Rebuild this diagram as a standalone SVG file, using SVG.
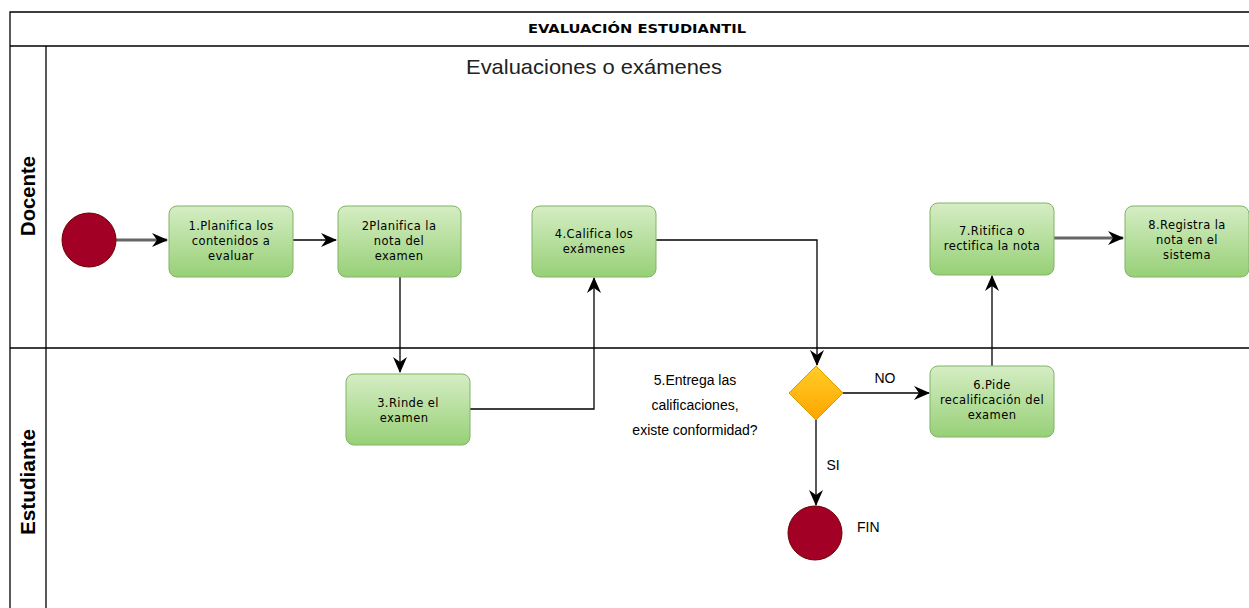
<svg xmlns="http://www.w3.org/2000/svg" width="1249" height="608" viewBox="0 0 1249 608">
<defs>
<linearGradient id="g" x1="0" y1="0" x2="0" y2="1"><stop offset="0" stop-color="#d5edc4"/><stop offset="1" stop-color="#97d077"/></linearGradient>
<linearGradient id="y" x1="0" y1="0" x2="0" y2="1"><stop offset="0" stop-color="#ffcd28"/><stop offset="1" stop-color="#ffa500"/></linearGradient>
<marker id="a" markerWidth="16" markerHeight="14" refX="15" refY="7" orient="auto" markerUnits="userSpaceOnUse"><path d="M0,0 L16,7 L0,14 L5,7 Z" fill="#000"/></marker>
<style>
.box{fill:url(#g);stroke:#82b366;stroke-width:1}
.bt{font-family:"DejaVu Sans",sans-serif;font-size:11.5px;letter-spacing:0.4px;text-anchor:middle;fill:#000}
.ev{fill:#a20025;stroke:#6f0000;stroke-width:1}
.c{fill:none;stroke:#000;stroke-width:1.3;marker-end:url(#a)}
.cg{fill:none;stroke:#666;stroke-width:3;marker-end:url(#a)}
.lbl{font-family:"Liberation Sans",Arial,sans-serif;font-size:14px;fill:#000}
.frame{fill:none;stroke:#000;stroke-width:1.3}
.lane{font-family:"Liberation Sans",Arial,sans-serif;font-size:20px;font-weight:bold;text-anchor:middle}
</style>
</defs>
<rect width="1249" height="608" fill="#fff"/>
<g id="pool">
<path class="frame" d="M10,608 V12 H1250 M10,46 H1250 M46,46 V608 M10,348 H1250"/>
<text x="637" y="33" font-family="DejaVu Sans,sans-serif" font-size="12" font-weight="bold" text-anchor="middle" textLength="218" lengthAdjust="spacingAndGlyphs">EVALUACIÓN ESTUDIANTIL</text>
<text class="lane" transform="translate(35,196) rotate(-90)" textLength="80" lengthAdjust="spacingAndGlyphs">Docente</text>
<text class="lane" transform="translate(35,482) rotate(-90)" textLength="106" lengthAdjust="spacingAndGlyphs">Estudiante</text>
<text x="594" y="74" font-family="Liberation Sans,Arial,sans-serif" font-size="21" text-anchor="middle" fill="#222" textLength="256" lengthAdjust="spacingAndGlyphs">Evaluaciones o exámenes</text>
</g>
<g id="connectors">
<path class="cg" d="M116,240 H167"/>
<path class="c" d="M293,240 H336"/>
<path class="c" d="M400,277 V372"/>
<path class="c" d="M470,409 H594 V278"/>
<path class="c" d="M656,240 H817 V365"/>
<path class="c" d="M843,393 H929"/>
<path class="c" d="M816,420 V505"/>
<path class="c" d="M992,366 V276"/>
<path class="cg" d="M1054,238 H1123"/>
<text class="lbl" x="885" y="383" text-anchor="middle">NO</text>
<text class="lbl" x="833" y="470" text-anchor="middle">SI</text>
</g>
<g id="start"><circle class="ev" cx="89" cy="240" r="27"/></g>
<g id="n1"><rect class="box" x="169" y="206" width="124" height="71" rx="8"/><text class="bt" x="231" y="230">1.Planifica los</text><text class="bt" x="231" y="245">contenidos a</text><text class="bt" x="231" y="260">evaluar</text></g>
<g id="n2"><rect class="box" x="338" y="206" width="123" height="71" rx="8"/><text class="bt" x="399" y="230">2Planifica la</text><text class="bt" x="399" y="245">nota del</text><text class="bt" x="399" y="260">examen</text></g>
<g id="n3"><rect class="box" x="346" y="374" width="124" height="71" rx="8"/><text class="bt" x="408" y="407">3.Rinde el</text><text class="bt" x="404" y="422">examen</text></g>
<g id="n4"><rect class="box" x="532" y="206" width="124" height="71" rx="8"/><text class="bt" x="594" y="238">4.Califica los</text><text class="bt" x="594" y="253">exámenes</text></g>
<g id="dec"><path d="M816,366 L843,393 L816,420 L789,393 Z" fill="url(#y)" stroke="#d79b00"/>
<text class="lbl" x="695" y="385" text-anchor="middle">5.Entrega las</text><text class="lbl" x="695" y="410" text-anchor="middle">calificaciones,</text><text class="lbl" x="695" y="435" text-anchor="middle">existe conformidad?</text></g>
<g id="n6"><rect class="box" x="930" y="366" width="124" height="71" rx="8"/><text class="bt" x="992" y="389">6.Pide</text><text class="bt" x="992" y="404">recalificación del</text><text class="bt" x="992" y="419">examen</text></g>
<g id="n7"><rect class="box" x="930" y="203" width="124" height="72" rx="8"/><text class="bt" x="992" y="235">7.Ritifica o</text><text class="bt" x="992" y="250">rectifica la nota</text></g>
<g id="n8"><rect class="box" x="1125" y="206" width="124" height="71" rx="8"/><text class="bt" x="1187" y="229">8.Registra la</text><text class="bt" x="1187" y="244">nota en el</text><text class="bt" x="1187" y="259">sistema</text></g>
<g id="end"><circle class="ev" cx="815" cy="533" r="27"/><text class="lbl" x="857" y="532">FIN</text></g>
</svg>
